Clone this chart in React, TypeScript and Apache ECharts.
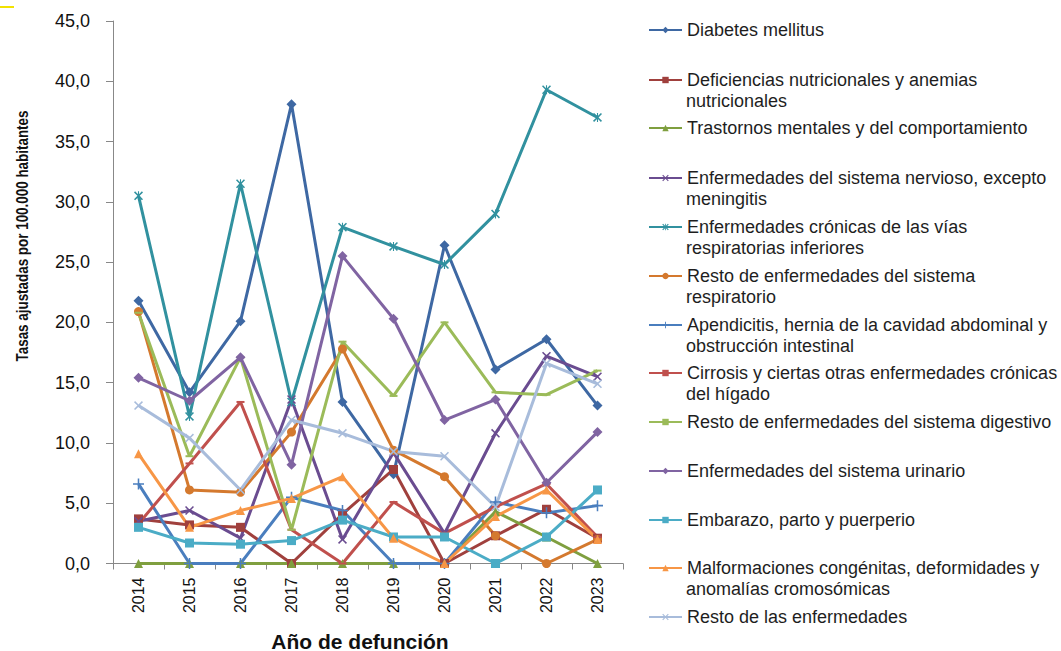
import React, { useEffect, useRef } from "react";
import * as echarts from "echarts";

const years = ["2014", "2015", "2016", "2017", "2018", "2019", "2020", "2021", "2022", "2023"];

const yMin = 0;
const yMax = 45;
const yInterval = 5;

const seriesNames = [
  "Diabetes mellitus",
  "Deficiencias nutricionales y anemias nutricionales",
  "Trastornos mentales y del comportamiento",
  "Enfermedades del sistema nervioso, excepto meningitis",
  "Enfermedades crónicas de las vías respiratorias inferiores",
  "Resto de enfermedades del sistema respiratorio",
  "Apendicitis, hernia de la cavidad abdominal y obstrucción intestinal",
  "Cirrosis y ciertas otras enfermedades crónicas del hígado",
  "Resto de enfermedades del sistema digestivo",
  "Enfermedades del sistema urinario",
  "Embarazo, parto y puerperio",
  "Malformaciones congénitas, deformidades y anomalías cromosómicas",
  "Resto de las enfermedades",
];

// Legend text as wrapped in the reference
const legendLabels = [
  ["Diabetes mellitus"],
  ["Deficiencias nutricionales y anemias", "nutricionales"],
  ["Trastornos mentales y del comportamiento"],
  ["Enfermedades del sistema nervioso, excepto", "meningitis"],
  ["Enfermedades crónicas de las vías", "respiratorias inferiores"],
  ["Resto de enfermedades del sistema", "respiratorio"],
  ["Apendicitis, hernia de la cavidad abdominal y", "obstrucción intestinal"],
  ["Cirrosis y ciertas otras enfermedades crónicas", "del hígado"],
  ["Resto de enfermedades del sistema digestivo"],
  ["Enfermedades del sistema urinario"],
  ["Embarazo, parto y puerperio"],
  ["Malformaciones congénitas, deformidades y", "anomalías cromosómicas"],
  ["Resto de las enfermedades"],
];

const diabetes = [21.8, 14.2, 20.1, 38.1, 13.4, 7.4, 26.4, 16.1, 18.6, 13.1];
const deficiencias = [3.7, 3.2, 3.0, 0.0, 4.1, 7.8, 0.0, 2.3, 4.5, 2.1];
const trastornos = [0.0, 0.0, 0.0, 0.0, 0.0, 0.0, 0.0, 4.3, 2.2, 0.0];
const nervioso = [3.5, 4.4, 2.1, 13.6, 2.0, 9.2, 2.5, 10.8, 17.2, 15.5];
const cronicas = [30.5, 12.2, 31.5, 13.4, 27.9, 26.3, 24.8, 29.0, 39.3, 37.0];
const restoRespiratorio = [20.9, 6.1, 5.9, 10.9, 17.8, 9.4, 7.2, 2.3, 0.0, 2.0];
const apendicitis = [6.6, 0.0, 0.0, 5.5, 4.4, 0.0, 0.0, 5.1, 4.2, 4.8];
const cirrosis = [3.3, 8.3, 13.4, 2.8, 0.0, 5.1, 2.5, 4.7, 6.6, 2.2];
const restoDigestivo = [20.8, 8.9, 17.1, 2.8, 18.4, 13.9, 20.0, 14.2, 14.0, 16.0];
const urinario = [15.4, 13.5, 17.1, 8.2, 25.5, 20.3, 11.9, 13.6, 6.7, 10.9];
const embarazo = [3.0, 1.7, 1.6, 1.9, 3.6, 2.2, 2.2, 0.0, 2.2, 6.1];
const malformaciones = [9.1, 3.0, 4.4, 5.4, 7.2, 2.1, 0.0, 3.9, 6.1, 2.0];
const restoEnfermedades = [13.1, 10.4, 6.1, 11.9, 10.8, 9.3, 8.9, 4.7, 16.6, 14.9];

const seriesValues = [
  diabetes,
  deficiencias,
  trastornos,
  nervioso,
  cronicas,
  restoRespiratorio,
  apendicitis,
  cirrosis,
  restoDigestivo,
  urinario,
  embarazo,
  malformaciones,
  restoEnfermedades,
];

const colors = [
  "#3E68A3",
  "#A0403D",
  "#7F9F3F",
  "#6A4C90",
  "#31919F",
  "#D4792E",
  "#4A7EBE",
  "#C0504D",
  "#9BBB59",
  "#8064A2",
  "#4BACC6",
  "#F79646",
  "#A8BCDB",
];

const X_PATH = "path://M0,1.2L1.2,0L5,3.8L8.8,0L10,1.2L6.2,5L10,8.8L8.8,10L5,6.2L1.2,10L0,8.8L3.8,5Z";
const PLUS_PATH = "path://M4.3,0H5.7V4.3H10V5.7H5.7V10H4.3V5.7H0V4.3H4.3Z";
const AST_PATH =
  "path://M0,1.2L1.2,0L5,3.8L8.8,0L10,1.2L6.2,5L10,8.8L8.8,10L5,6.2L1.2,10L0,8.8L3.8,5Z M4.4,0H5.6V10H4.4Z";
const DASH_PATH = "path://M0,0H10V2H0Z";

const symbols: any[] = [
  ["diamond", 10],
  ["rect", 9],
  ["triangle", 9],
  [X_PATH, 9],
  [AST_PATH, 9],
  ["circle", 9],
  [PLUS_PATH, 11],
  [DASH_PATH, [8, 2]],
  [DASH_PATH, [8, 2]],
  ["diamond", 10],
  ["rect", 9],
  ["triangle", 9],
  [X_PATH, 9],
];

// first-line centre of each legend entry (px from top)
const legendCenters = [30, 80, 128, 178, 227, 276, 325, 373, 422, 471, 520, 568, 617];

export default function App() {
  const ref = useRef<HTMLDivElement>(null);

  useEffect(() => {
    if (!ref.current) return;
    const chart = echarts.init(ref.current, undefined, { renderer: "svg" });
    const L = 21;
    const legendLeft = 648;
    const legendIconW = 33;
    const textX = legendLeft + legendIconW + 5;
    const legendFont = "Liberation Sans, Arial, sans-serif";

    const legends = seriesNames.map((name, i) => ({
      data: [name],
      orient: "vertical",
      left: legendLeft,
      top: legendCenters[i] - 0.5 * L,
      padding: 0,
      itemWidth: legendIconW,
      itemHeight: 8,
      itemGap: 0,
      selectedMode: false,
      formatter: () => legendLabels[i][0],
      textStyle: {
        fontFamily: legendFont,
        fontSize: 18,
        color: "#1e1e1e",
        lineHeight: L,
      },
    }));

    const secondLines = legendLabels
      .map((lines, i) => ({ lines, i }))
      .filter((o) => o.lines.length > 1)
      .map((o) => ({
        type: "text",
        x: textX,
        y: legendCenters[o.i] + L,
        style: {
          text: o.lines[1],
          fontFamily: legendFont,
          fontSize: 18,
          fill: "#1e1e1e",
          align: "left",
          verticalAlign: "middle",
        },
      }));

    const series = seriesNames.map((name, i) => ({
      name,
      type: "line",
      data: seriesValues[i],
      symbol: symbols[i][0],
      symbolSize: symbols[i][1],
      showSymbol: true,
      lineStyle: { color: colors[i], width: 3 },
      itemStyle: { color: colors[i] },
      emphasis: { disabled: true },
    }));

    const option: any = {
      animation: false,
      backgroundColor: "#ffffff",
      textStyle: { fontFamily: "Liberation Sans, Arial, sans-serif" },
      grid: { left: 113, right: 438, top: 21, bottom: 87.5, containLabel: false },
      xAxis: {
        type: "category",
        data: years,
        boundaryGap: true,
        axisLine: { show: true, lineStyle: { color: "#888888", width: 1 } },
        axisTick: { show: true, length: 6, alignWithLabel: false, lineStyle: { color: "#888888" } },
        axisLabel: { rotate: 90, margin: 14, fontSize: 16, color: "#111111" },
        splitLine: { show: false },
      },
      yAxis: {
        type: "value",
        min: yMin,
        max: yMax,
        interval: yInterval,
        axisLine: { show: true, lineStyle: { color: "#888888", width: 1 } },
        axisTick: { show: true, length: 7, inside: false, lineStyle: { color: "#888888" } },
        splitLine: { show: false },
        axisLabel: {
          margin: 23,
          fontSize: 18,
          color: "#111111",
          formatter: (v: number) => v.toFixed(1).replace(".", ","),
        },
      },
      legend: legends,
      series,
      graphic: [
        {
          type: "rect",
          shape: { x: 0, y: 6, width: 14, height: 2 },
          style: { fill: "#F2E200" },
        },
        {
          type: "text",
          x: 22,
          y: 236,
          rotation: Math.PI / 2,
          scaleX: 0.79,
          scaleY: 1,
          style: {
            text: "Tasas ajustadas por 100.000 habitantes",
            fontFamily: "Liberation Sans, Arial, sans-serif",
            fontWeight: "bold",
            fontSize: 17,
            fill: "#111111",
            align: "center",
            verticalAlign: "middle",
          },
        },
        {
          type: "text",
          x: 360,
          y: 641,
          style: {
            text: "Año de defunción",
            fontFamily: "Liberation Sans, Arial, sans-serif",
            fontWeight: "bold",
            fontSize: 21,
            fill: "#111111",
            align: "center",
            verticalAlign: "middle",
          },
        },
        ...secondLines,
      ],
    };

    chart.setOption(option);
    return () => chart.dispose();
  }, []);

  return (
    <div
      ref={ref}
      style={{ position: "absolute", left: 0, top: 0, width: 1061, height: 651, background: "#fff" }}
    />
  );
}
